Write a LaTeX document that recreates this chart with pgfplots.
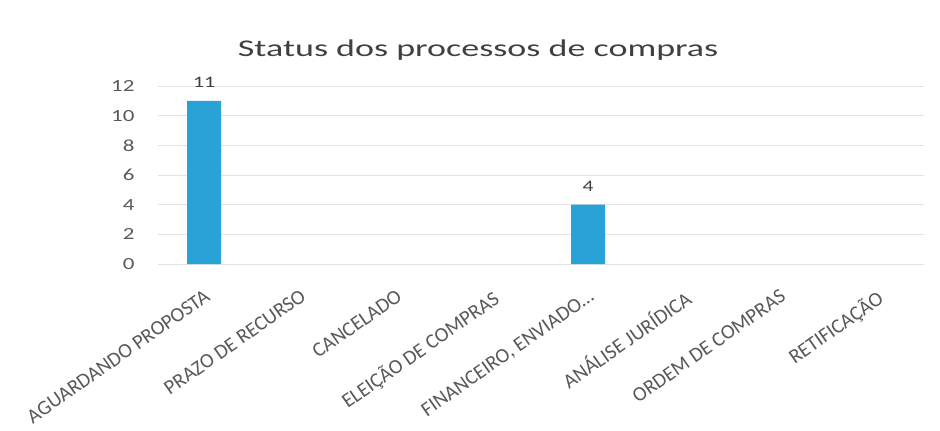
\documentclass[border=0pt]{standalone}
\usepackage{fontspec}
\setmainfont{Carlito}
\newfontfamily\wide[FakeStretch=1.35]{Carlito}
\newfontfamily\wider[FakeStretch=1.5]{Carlito}
\usepackage{pgfplots}
\pgfplotsset{compat=1.18}
\definecolor{barblue}{HTML}{29A3D5}
\definecolor{txtgray}{HTML}{595959}
\definecolor{titlegray}{HTML}{404040}
\begin{document}
\begin{tikzpicture}
\useasboundingbox (-158pt,-167pt) rectangle (782pt,264pt);
\begin{axis}[
  at={(0pt,0pt)}, anchor=south west,
  scale only axis, width=766pt, height=178pt,
  xmin=-0.48, xmax=7.5, ymin=0, ymax=12,
  ytick={0,2,...,12},
  xtick={0,...,7},
  xticklabels={AGUARDANDO PROPOSTA, PRAZO DE RECURSO, CANCELADO, ELEIÇÃO DE COMPRAS,
    {FINANCEIRO, ENVIADO\ldots}, ANÁLISE JURÍDICA, ORDEM DE COMPRAS, RETIFICAÇÃO},
  axis line style={draw=none}, tick style={draw=none},
  ymajorgrids, grid style={gray!22, line width=0.7pt},
  /pgf/number format/assume math mode=true,
  yticklabel style={font=\wide\fontsize{17}{17}\selectfont, text=txtgray, xshift=-20pt},
  xticklabel style={font=\fontsize{20.5}{21}\selectfont, text=txtgray, rotate=35,
    anchor=north east, inner sep=0pt, xshift=-12pt, yshift=-16pt},
  title={\wider\fontsize{24}{25}\selectfont Status dos processos de compras},
  title style={at={(rel axis cs:0.418,1.17)}, anchor=center, text=titlegray},
  ybar, bar width=34pt,
  nodes near coords,
  nodes near coords style={font=\wide\fontsize{16}{16}\selectfont, text=titlegray, yshift=10pt},
]
\addplot[fill=barblue, draw=none] coordinates {(0,11) (4,4)};
\end{axis}
\end{tikzpicture}
\end{document}
